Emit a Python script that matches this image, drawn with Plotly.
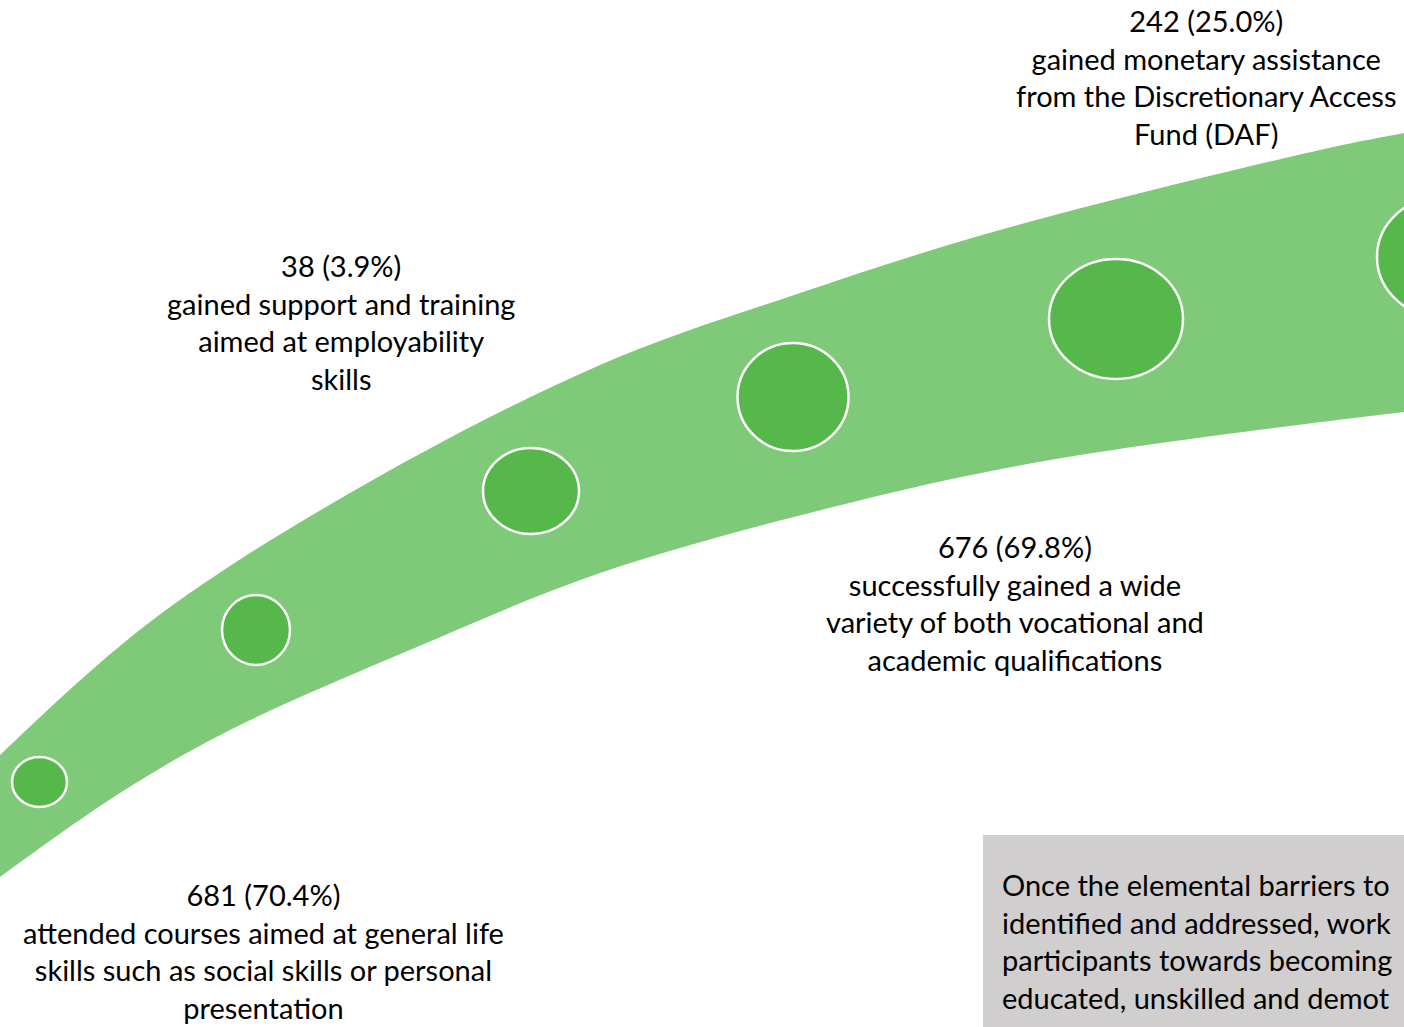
import plotly.graph_objects as go

W, H = 1404, 1027

# Band edges (pixel-space coordinates of the diagram)
upper_x = [-40, 0, 150, 350, 600, 800, 1000, 1320, 1404, 1480]
upper_y = [795, 755, 622, 493, 365, 293, 230, 150, 133, 119]
lower_x = [-40, 0, 120, 230, 417, 600, 833, 1050, 1404, 1480]
lower_y = [907, 877, 793, 730, 647, 573, 507, 460, 412, 404]

# Circles along the band
circle_cx = [39.5, 256, 531, 793, 1116, 1447]
circle_cy = [782, 630, 491, 397, 319, 257]
circle_rx = [27.5, 34, 48, 55.5, 67, 70]
circle_ry = [25, 35, 43, 54, 60, 62]

# Labels
label_text = [
    "242 (25.0%)<br>gained monetary assistance<br>from the Discretionary Access<br>Fund (DAF)",
    "38 (3.9%)<br>gained support and training<br>aimed at employability<br>skills",
    "676 (69.8%)<br>successfully gained a wide<br>variety of both vocational and<br>academic qualifications",
    "681 (70.4%)<br>attended courses aimed at general life<br>skills such as social skills or personal<br>presentation",
]
label_x = [1206, 341, 1015, 263]
label_y = [1, 246, 527, 875]

box_text = ("Once the elemental barriers to<br>identified and addressed, work<br>"
            "participants towards becoming<br>educated, unskilled and demot")

BAND = "#7FCA78"
DOT = "#56B84A"
GREY = "#D0CECE"
FONT = "Lato"
FSIZE = 29

fig = go.Figure()
fig.add_trace(go.Scatter(
    x=upper_x + lower_x[::-1],
    y=upper_y + lower_y[::-1],
    mode="lines", fill="toself", fillcolor=BAND,
    line=dict(color=BAND, width=0, shape="spline", smoothing=1.0),
    hoverinfo="skip", showlegend=False,
))

shapes = []
for cx, cy, rx, ry in zip(circle_cx, circle_cy, circle_rx, circle_ry):
    shapes.append(dict(type="circle", xref="x", yref="y",
                       x0=cx - rx, x1=cx + rx, y0=cy - ry, y1=cy + ry,
                       fillcolor=DOT, line=dict(color="white", width=2.5), layer="above"))
shapes.append(dict(type="rect", xref="x", yref="y", x0=983, x1=1460, y0=835, y1=1060,
                   fillcolor=GREY, line=dict(width=0), layer="above"))

annotations = []
for t, x, y in zip(label_text, label_x, label_y):
    annotations.append(dict(x=x, y=y, xref="x", yref="y", text=t, showarrow=False,
                            xanchor="center", yanchor="top", align="center",
                            font=dict(family=FONT, size=FSIZE, color="black")))
annotations.append(dict(x=1000, y=865, xref="x", yref="y", text=box_text, showarrow=False,
                        xanchor="left", yanchor="top", align="left",
                        font=dict(family=FONT, size=FSIZE, color="black")))

fig.update_layout(
    width=W, height=H, margin=dict(l=0, r=0, t=0, b=0),
    paper_bgcolor="white", plot_bgcolor="white",
    xaxis=dict(range=[0, W], visible=False, fixedrange=True),
    yaxis=dict(range=[H, 0], visible=False, fixedrange=True),
    shapes=shapes, annotations=annotations, showlegend=False,
)

fig.write_html("out.html", config={"displayModeBar": False},
               post_script="document.body.style.margin='0';document.body.style.overflow='hidden';")
